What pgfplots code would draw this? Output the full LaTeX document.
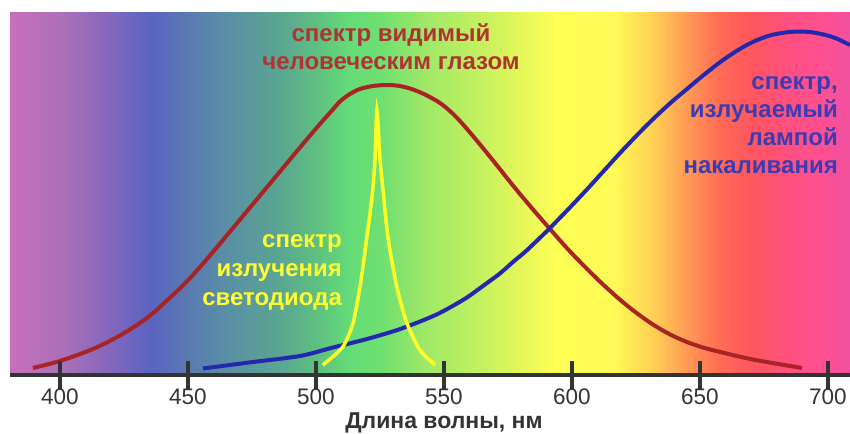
\documentclass[border=0pt]{standalone}
\usepackage{pgfplots}
\pgfplotsset{compat=1.18}
\usepackage{fontspec}
\setmainfont{Liberation Sans}

\definecolor{axgray}{RGB}{51,51,51}
\definecolor{curveRed}{RGB}{168,36,36}
\definecolor{curveBlue}{RGB}{36,40,172}
\definecolor{curveYellow}{RGB}{255,255,40}
\definecolor{textRed}{RGB}{176,50,50}
\definecolor{textBlue}{RGB}{58,60,180}
\definecolor{textYellow}{RGB}{255,255,50}

\definecolor{s00}{RGB}{200,112,184}
\definecolor{s01}{RGB}{168,112,184}
\definecolor{s02}{RGB}{140,104,188}
\definecolor{s03}{RGB}{90,100,192}
\definecolor{s04}{RGB}{90,138,168}
\definecolor{s05}{RGB}{90,168,144}
\definecolor{s06}{RGB}{94,192,128}
\definecolor{s07}{RGB}{100,220,120}
\definecolor{s08}{RGB}{112,224,112}
\definecolor{s09}{RGB}{160,232,104}
\definecolor{s10}{RGB}{192,240,96}
\definecolor{s11}{RGB}{232,248,88}
\definecolor{s12}{RGB}{255,255,85}
\definecolor{s13}{RGB}{255,250,85}
\definecolor{s14}{RGB}{255,208,85}
\definecolor{s15}{RGB}{255,154,85}
\definecolor{s16}{RGB}{255,106,85}
\definecolor{s17}{RGB}{255,85,96}
\definecolor{s18}{RGB}{255,80,128}
\definecolor{s19}{RGB}{255,80,144}
\definecolor{s20}{RGB}{240,80,160}

\pgfdeclarehorizontalshading{spectrum}{100bp}{%
color(0bp)=(s00); color(25bp)=(s00); color(28.39bp)=(s01); color(30.36bp)=(s02);
color(33.33bp)=(s03); color(37.32bp)=(s04); color(41.25bp)=(s05); color(43.27bp)=(s06);
color(45.24bp)=(s07); color(47.20bp)=(s08); color(49.70bp)=(s09); color(52.68bp)=(s10);
color(55.65bp)=(s11); color(57.62bp)=(s12); color(61.01bp)=(s13); color(63.27bp)=(s14);
color(65.30bp)=(s15); color(67.26bp)=(s16); color(69.23bp)=(s17); color(71.25bp)=(s18);
color(73.21bp)=(s19); color(75bp)=(s20); color(100bp)=(s20)}

\newcommand{\lblfont}{\bfseries\fontsize{24bp}{28bp}\selectfont}

\begin{document}
\begin{tikzpicture}
\useasboundingbox (-10bp,-59bp) rectangle (840bp,375bp);
\begin{axis}[
  at={(0,0)}, anchor=south west,
  scale only axis, width=840bp, height=362bp,
  xmin=380.5, xmax=708.6, ymin=-1, ymax=361,
  axis y line=none, axis x line*=bottom,
  x axis line style={draw=axgray, line width=4bp, -},
  axis on top=true,
  xtick={400,450,...,700}, ytick=\empty,
  tick align=center, major tick length=27bp,
  xtick style={draw=axgray, line width=4bp},
  /pgf/number format/assume math mode=true,
  xticklabel style={font=\fontsize{22.5bp}{26bp}\selectfont, text=axgray, anchor=base, inner sep=0pt, yshift=-15.5bp},
  xlabel={Длина волны, нм},
  xlabel style={at={(axis description cs:0.5166,0)}, anchor=base, yshift=-53bp, inner sep=0pt, font=\bfseries\fontsize{23bp}{27bp}\selectfont, text=axgray},
]
\fill[shading=spectrum] (axis cs:380.5,-1) rectangle (axis cs:708.6,361);

% eye sensitivity curve
\addplot[curveRed, line width=4bp, smooth, tension=0.5] coordinates {
(389.45,6) (400,13) (412.89,25) (423.44,38.5) (433.98,56) (444.14,79) (451.95,99)
(459.77,122) (467.58,146) (475.39,170) (483.20,194) (493.75,226.5) (501.56,250)
(505.47,261.2) (509.38,272.5) (513.28,280) (517.19,285) (522.27,288) (527.73,289)
(532.81,288) (537.89,284.5) (543.36,278.5) (548.44,271) (552.34,263) (556.25,253)
(561.33,238) (566.80,221) (571.88,204.8) (576.95,188.5) (583.59,168.1) (591.41,145)
(598.44,124.7) (605.86,105.1) (612.11,89.6) (618.75,74.3) (625.39,60.7) (631.64,49.5)
(638.28,39.6) (644.92,32) (651.17,26.5) (657.81,22.1) (670.70,14.5) (689.84,6)
};

% incandescent lamp spectrum
\addplot[curveBlue, line width=4bp, smooth, tension=0.5] coordinates {
(455.86,5.5) (474.22,11.6) (493.75,18) (506.64,26.5) (519.92,35) (532.81,44.9)
(545.70,57.8) (552.34,66.5) (558.98,76.5) (565.23,88) (571.88,100.6) (576.95,112)
(582.42,123.8) (590.63,144) (598.05,163.4) (605.86,184.6) (612.11,202.2) (618.75,220.9)
(625.39,238.8) (631.64,254.8) (638.28,270.6) (644.92,285) (651.17,298.4) (657.81,311.7)
(664.45,323.3) (670.70,332.1) (677.34,338.6) (683.98,341.7) (689.06,342.5)
(693.75,341.7) (698.44,339.4) (703.13,335.7) (708.59,329)
};

% LED spectrum
\addplot[curveYellow, line width=3.5bp, smooth, tension=0.4] coordinates {
(502.7,9) (510.5,27) (514.5,51) (517.2,87) (519.9,137) (521.9,177)
(523,211) (523.8,264) (525,216) (526.2,184) (528.1,137) (531.6,87)
(535.5,51) (540.6,24) (546.5,9)
};

\node[anchor=base, inner sep=0pt, text=textRed, font=\lblfont] at (axis cs:529.3,332) {спектр видимый};
\node[anchor=base, inner sep=0pt, text=textRed, font=\lblfont] at (axis cs:529.3,304) {человеческим глазом};

\node[anchor=base east, inner sep=0pt, text=textBlue, font=\lblfont] at (axis cs:703.9,284) {спектр,};
\node[anchor=base east, inner sep=0pt, text=textBlue, font=\lblfont] at (axis cs:703.9,256) {излучаемый};
\node[anchor=base east, inner sep=0pt, text=textBlue, font=\lblfont] at (axis cs:703.9,228) {лампой};
\node[anchor=base east, inner sep=0pt, text=textBlue, font=\lblfont] at (axis cs:703.9,200) {накаливания};

\node[anchor=base east, inner sep=0pt, text=textYellow, font=\lblfont] at (axis cs:510.2,126) {спектр};
\node[anchor=base east, inner sep=0pt, text=textYellow, font=\lblfont] at (axis cs:510.2,97.5) {излучения};
\node[anchor=base east, inner sep=0pt, text=textYellow, font=\lblfont] at (axis cs:510.2,69) {светодиода};
\end{axis}
\end{tikzpicture}
\end{document}
